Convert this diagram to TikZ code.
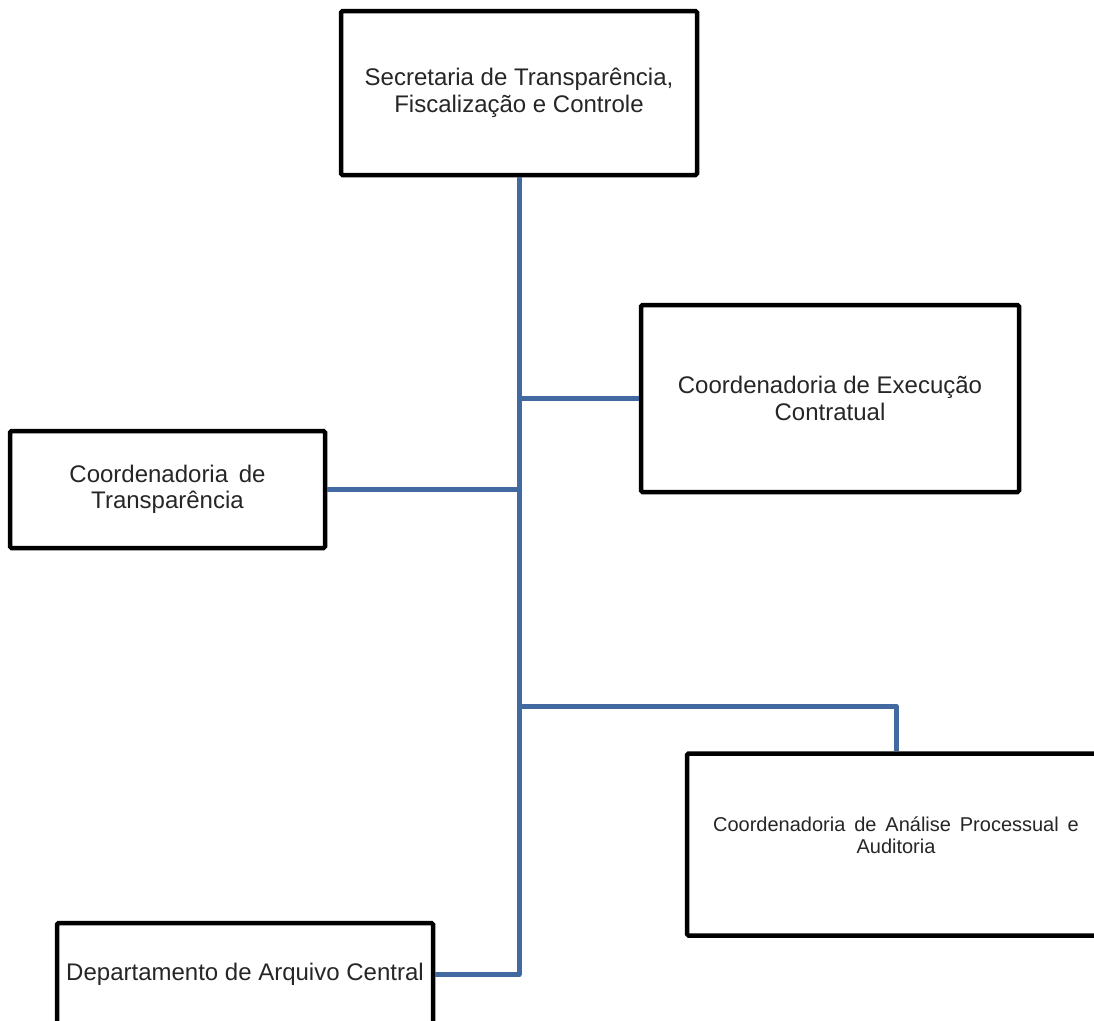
\documentclass[tikz,border=0pt]{standalone}
\usepackage{fontspec}
\setmainfont{Liberation Sans}
\definecolor{linkblue}{RGB}{66,106,160}
\tikzset{
  box/.style={draw=black, line width=4.5pt, rounded corners=1.5pt, fill=white,
    rectangle, inner sep=0pt, align=center, text=black!85,
    font=\fontsize{24}{26.5}\selectfont},
  link/.style={draw=linkblue, line width=5pt, line join=round}
}
\begin{document}
\begin{tikzpicture}[x=1pt,y=-1pt]
\useasboundingbox (0,0) rectangle (1094,1020);
\node[box, minimum width=356pt, minimum height=164pt] (top) at (519,93)
  {Secretaria de Transparência,\\Fiscalização e Controle};
\node[box, minimum width=378pt, minimum height=187pt] (exec) at (830,398.5)
  {Coordenadoria de Execução\\Contratual};
\node[box, minimum width=315pt, minimum height=117pt] (transp) at (167.5,489.5)
  {Coordenadoria \,de\\Transparência};
\node[box, minimum width=418pt, minimum height=182pt, font=\fontsize{20}{22}\selectfont] (anal) at (896,844.5)
  {Coordenadoria \,de \,Análise \,Processual \,e\\Auditoria\rule[-18pt]{0pt}{0pt}};
\node[box, minimum width=376pt, minimum height=103pt] (dept) at (245,974.5)
  {Departamento de Arquivo Central};
\coordinate (j) at (519,706);
\path[link] (top.south) -- (top.south |- dept.east) -- (dept.east);
\path[link] (top.south |- exec.west) -- (exec.west);
\path[link] (top.south |- transp.east) -- (transp.east);
\path[link] (top.south |- j) -| (anal.north);
\end{tikzpicture}
\end{document}
